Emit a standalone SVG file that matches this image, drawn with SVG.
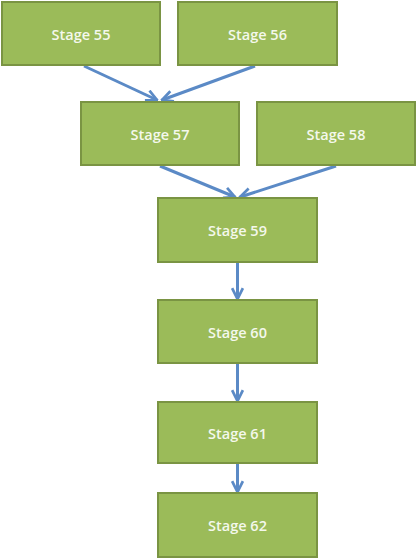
<svg xmlns="http://www.w3.org/2000/svg" width="417" height="559" viewBox="0 0 417 559">
<style>
.n rect{fill:#9bbb59;stroke:#7a9443;stroke-width:2}
.n text{fill:#f4f8ec;font-family:"Open Sans","Liberation Sans",sans-serif;font-size:14.5px;font-weight:600;text-anchor:middle;dominant-baseline:central}
.c line{stroke:#5b8ac6;stroke-width:3;marker-end:url(#ah)}
</style>
<defs>
<marker id="ah" viewBox="0 0 10 10" refX="9" refY="5" markerWidth="4.5" markerHeight="4.5" orient="auto" markerUnits="strokeWidth">
<path d="M1,1 L9,5 L1,9" fill="none" stroke="#5b8ac6" stroke-width="2"/>
</marker>
</defs>
<rect width="417" height="559" fill="#ffffff"/>
<g class="c">
<line x1="84" y1="66" x2="157" y2="100"/>
<line x1="255" y1="66" x2="162" y2="100"/>
<line x1="160" y1="166" x2="235" y2="197"/>
<line x1="336" y1="166" x2="240" y2="197"/>
<line x1="237.5" y1="263" x2="237.5" y2="299"/>
<line x1="237.5" y1="364" x2="237.5" y2="401"/>
<line x1="237.5" y1="464" x2="237.5" y2="492"/>
</g>
<g id="stage55" class="n"><rect x="2" y="2" width="158" height="63"/><text x="81" y="34">Stage 55</text></g>
<g id="stage56" class="n"><rect x="178" y="2" width="159" height="63"/><text x="257.5" y="34">Stage 56</text></g>
<g id="stage57" class="n"><rect x="81" y="102" width="158" height="63"/><text x="160" y="134">Stage 57</text></g>
<g id="stage58" class="n"><rect x="257" y="102" width="158" height="63"/><text x="336" y="134">Stage 58</text></g>
<g id="stage59" class="n"><rect x="158" y="198" width="159" height="64"/><text x="237.5" y="230">Stage 59</text></g>
<g id="stage60" class="n"><rect x="158" y="300" width="159" height="63"/><text x="237.5" y="332">Stage 60</text></g>
<g id="stage61" class="n"><rect x="158" y="402" width="159" height="61"/><text x="237.5" y="433">Stage 61</text></g>
<g id="stage62" class="n"><rect x="158" y="493" width="159" height="64"/><text x="237.5" y="525">Stage 62</text></g>
</svg>
